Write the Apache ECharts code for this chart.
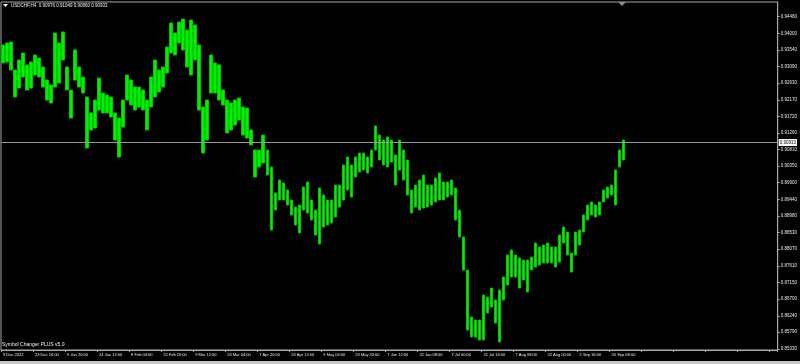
<!DOCTYPE html>
<html><head><meta charset="utf-8">
<script src="https://cdn.jsdelivr.net/npm/echarts@6/dist/echarts.min.js"></script>
<style>html,body{margin:0;padding:0;background:#000;}#c{width:800px;height:364px;}</style>
</head><body><div id="c"></div>
<script>
// Each column ≈ one day of H4 bars (high/low)
const highs = [0.93678,0.93733,0.93760,0.92991,0.93266,0.93458,0.93129,0.93211,0.93403,0.93321,
0.93074,0.92717,0.92579,0.94007,0.93733,0.94035,0.93074,0.92442,0.93541,0.93074,
0.92799,0.92250,0.91811,0.92167,0.92772,0.92360,0.92305,0.92250,0.91811,0.91673,
0.92167,0.92854,0.92717,0.92524,0.92524,0.92442,0.92167,0.92799,0.93266,0.92991,
0.93074,0.93623,0.94282,0.94007,0.94309,0.94392,0.94090,0.94364,0.94227,0.93678,
0.91975,0.92167,0.93403,0.93184,0.93129,0.92442,0.92167,0.92085,0.92167,0.92222,
0.91975,0.91948,0.91344,0.90795,0.90795,0.91206,0.90795,0.90328,0.89614,0.89971,
0.89888,0.89696,0.89422,0.89229,0.89284,0.89779,0.89916,0.89422,0.89147,0.89751,
0.89559,0.89422,0.89422,0.89833,0.89833,0.90383,0.90602,0.90383,0.90602,0.90712,
0.90712,0.90602,0.90795,0.91454,0.91206,0.91069,0.91152,0.91069,0.90657,0.91069,
0.90795,0.90520,0.89696,0.89833,0.89971,0.90108,0.89833,0.89833,0.90026,0.90163,
0.89916,0.89916,0.89971,0.89751,0.89147,0.88406,0.87499,0.86209,0.86126,0.86126,
0.86813,0.86758,0.87005,0.86676,0.86950,0.87307,0.87911,0.88049,0.87911,0.87829,
0.87774,0.87774,0.87856,0.88241,0.88131,0.88186,0.88241,0.88131,0.88131,0.88460,
0.88680,0.88543,0.87966,0.88543,0.88598,0.89010,0.89284,0.89367,0.89284,0.89367,
0.89696,0.89779,0.89833,0.90245,0.90795,0.91069];
const lows = [0.93184,0.93211,0.92991,0.92250,0.92497,0.92799,0.92442,0.92497,0.92854,0.92799,
0.92524,0.92167,0.92085,0.92524,0.92634,0.93266,0.92442,0.91673,0.92717,0.92524,
0.92360,0.90849,0.91344,0.91399,0.91893,0.91811,0.91811,0.91701,0.91069,0.90602,
0.91426,0.92167,0.92030,0.91893,0.91975,0.91893,0.91344,0.91975,0.92250,0.92387,
0.92524,0.92909,0.93458,0.93403,0.93733,0.93541,0.93074,0.92854,0.93266,0.91893,
0.90712,0.91069,0.92360,0.92360,0.92167,0.92030,0.91261,0.91344,0.91481,0.91618,
0.91206,0.91124,0.90932,0.90053,0.90328,0.90438,0.90108,0.88598,0.89147,0.89422,
0.89422,0.89284,0.89010,0.88735,0.88515,0.89147,0.89065,0.88872,0.88460,0.88213,
0.88680,0.88735,0.88790,0.88955,0.89229,0.89422,0.89696,0.89504,0.90053,0.90190,
0.90245,0.90163,0.90328,0.90795,0.90520,0.90383,0.90328,0.90465,0.89833,0.90245,
0.89971,0.89559,0.89065,0.89229,0.89147,0.89202,0.89229,0.89284,0.89367,0.89422,
0.89422,0.89504,0.89559,0.88872,0.88406,0.87499,0.85852,0.85660,0.85660,0.85577,
0.85577,0.86319,0.86483,0.86044,0.85522,0.86676,0.87087,0.87307,0.87307,0.87005,
0.87225,0.86895,0.87499,0.87582,0.87637,0.87692,0.87692,0.87692,0.87582,0.87719,
0.88241,0.87911,0.87444,0.87911,0.88186,0.88543,0.88872,0.89010,0.88955,0.89010,
0.89367,0.89476,0.89559,0.89284,0.90328,0.90520];
const dateLabels = ['9 Dec 2022','23 Dec 16:00','9 Jan 20:00','24 Jan 12:00','8 Feb 04:00','22 Feb 20:00',
'9 Mar 12:00','24 Mar 04:00','7 Apr 20:00','24 Apr 12:00','9 May 04:00','23 May 20:00','7 Jun 12:00',
'22 Jun 08:00','7 Jul 00:00','21 Jul 16:00','7 Aug 08:00','22 Aug 00:00','5 Sep 16:00','20 Sep 08:00'];
const priceTicks = [0.85330,0.85790,0.86240,0.86700,0.87150,0.87610,0.88070,0.88530,0.88980,0.89440,
0.89900,0.90350,0.90810,0.91260,0.91720,0.92170,0.92630,0.93090,0.93540,0.94000,0.94460];
const lastPrice = 0.90933;
const titleText = 'USDCHF,H4  0.90976 0.91049 0.90860 0.90933';
const footerText = 'Symbol Changer PLUS v5.0';
const slotCount = 194; // columns incl. right-side chart shift space
const labelEvery = 8;

const categories = [];
for (let i = 0; i < slotCount; i++) categories.push(String(i));
const ohlc = highs.map((h, i) => [lows[i], h, lows[i], h]);

const chart = echarts.init(document.getElementById('c'), null, {renderer: 'canvas'});
const FONT = 'Liberation Sans Narrow, Liberation Sans, Arial, sans-serif';
chart.setOption({
  backgroundColor: '#000000',
  animation: false,
  grid: {left: 1, right: 20, top: 2, bottom: 14, show: true, borderColor: '#a8a8a8', borderWidth: 1, backgroundColor: 'transparent'},
  xAxis: {
    type: 'category', data: categories, boundaryGap: true,
    axisLine: {show: true, lineStyle: {color: '#a8a8a8'}},
    axisTick: {show: true, interval: labelEvery - 1, length: 2, lineStyle: {color: '#a8a8a8'}},
    axisLabel: {
      interval: labelEvery - 1, align: 'left', margin: 3, color: '#e8e8e8', fontSize: 4, fontFamily: FONT,
      formatter: (v, idx) => (idx % labelEvery === 0 && dateLabels[idx / labelEvery]) ? dateLabels[idx / labelEvery] : ''
    },
    splitLine: {show: false}
  },
  yAxis: {
    type: 'value', position: 'right', min: 0.85303, max: 0.94859, scale: true,
    axisLine: {show: true, lineStyle: {color: '#a8a8a8'}},
    axisTick: {show: true, length: 2, customValues: priceTicks, lineStyle: {color: '#a8a8a8'}},
    axisLabel: {customValues: priceTicks, margin: 3, color: '#e8e8e8', fontSize: 4.5, fontFamily: FONT,
      formatter: v => v.toFixed(5)},
    splitLine: {show: false}
  },
  series: [{
    type: 'candlestick',
    data: ohlc,
    barWidth: '75%',
    itemStyle: {color: '#00f000', color0: '#00f000', borderColor: '#00c800', borderColor0: '#00c800', borderWidth: 1},
    markLine: {
      silent: true, symbol: ['none', 'none'],
      data: [{yAxis: lastPrice}],
      lineStyle: {color: '#9a9a9a', width: 1, type: 'solid'},
      label: {show: true, position: 'end', formatter: () => lastPrice.toFixed(5), color: '#000', backgroundColor: '#ffffff',
        fontSize: 4.5, fontFamily: FONT, padding: [1, 1], distance: 1}
    }
  }],
  graphic: [
    {type: 'polygon', shape: {points: [[3, 4], [8, 4], [5.5, 7]]}, style: {fill: '#ffffff'}},
    {type: 'text', left: 11, top: 3, style: {text: titleText, fill: '#f0f0f0', fontSize: 4.5, fontFamily: FONT}},
    {type: 'text', left: 2, top: 342, style: {text: footerText, fill: '#f0f0f0', fontSize: 5, fontFamily: FONT}},
    {type: 'polygon', shape: {points: [[618, 2], [626, 2], [622, 6]]}, style: {fill: '#8a8a8a'}},
    {type: 'rect', shape: {x: 0, y: 361, width: 800, height: 3}, style: {fill: '#c8c8c8'}}
  ]
});
</script></body></html>
